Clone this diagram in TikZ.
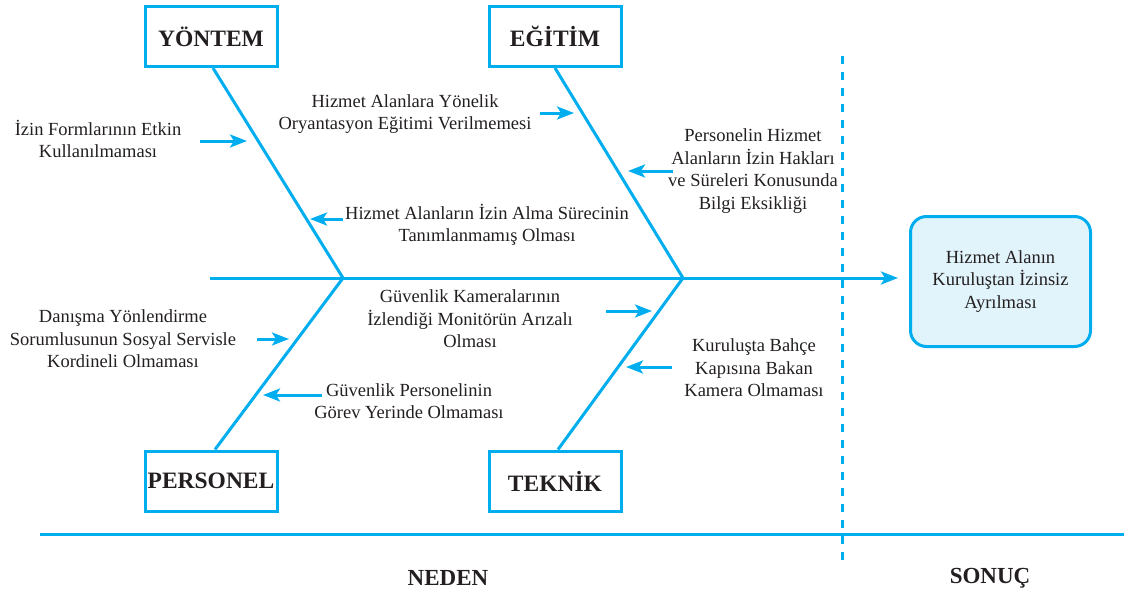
\documentclass[tikz,border=0pt]{standalone}
\usepackage{fontspec}
\setmainfont{Liberation Serif}
\usetikzlibrary{arrows.meta}
\definecolor{fbcyan}{HTML}{00AEEF}
\definecolor{fbfill}{HTML}{E1F3FB}
\definecolor{fbtext}{HTML}{231F20}
\begin{document}
\begin{tikzpicture}[x=1pt,y=-1pt,
  bone/.style={draw=fbcyan,line width=3pt},
  catbox/.style={draw=fbcyan,line width=3pt,minimum width=132pt,minimum height=60pt,
    inner sep=0pt,text=fbtext,font=\fontsize{23.5}{28}\selectfont\bfseries},
  cause/.style={align=center,inner sep=0pt,text=fbtext,font=\fontsize{18.5}{22.5}\selectfont},
  tip/.style={-{Stealth[length=17pt,width=13pt,inset=4pt]}},
  causearrow/.style={draw=fbcyan,line width=3pt,tip},
  resultbox/.style={draw=fbcyan,line width=3pt,fill=fbfill,rounded corners=16pt,
    minimum width=180pt,minimum height=130pt,align=center,inner sep=0pt,text=fbtext,
    font=\fontsize{18.5}{22.5}\selectfont},
  footlabel/.style={inner sep=0pt,text=fbtext,font=\fontsize{23}{28}\selectfont\bfseries}]
\useasboundingbox (0,0) rectangle (1124,597);

% category boxes
\node[catbox] (yontem)   at (211,36.5) {YÖNTEM};
\node[catbox] (egitim)   at (555,36.5) {EĞİTİM};
\node[catbox] (personel) at (211,481)  {PERSONEL};
\node[catbox] (teknik)   at (555,481)  {TEKNİK};

% effect box
\node[resultbox] (result) at (1000.5,281.5) {Hizmet Alanın\\Kuruluştan İzinsiz\\Ayrılması};

% spine and bones
\coordinate (spinestart) at (210,278);
\coordinate (j1) at (343,278);
\coordinate (j2) at (683,278);
\draw[bone,tip,shorten >=11pt] (spinestart) -- (result.west |- spinestart);
\draw[bone] ([xshift=2pt]yontem.south) -- (j1) -- ([xshift=4pt]personel.north);
\draw[bone] (egitim.south) -- (j2) -- ([xshift=3pt]teknik.north);

% cause / effect separators
\coordinate (sepTop) at (842,56);
\coordinate (sepBot) at (842,560);
\draw[bone,dash pattern=on 8pt off 8pt] (sepTop) -- (sepBot);
\coordinate (baseL) at (40,534);
\coordinate (baseR) at (1124,534);
\draw[bone] (baseL) -- (baseR);

\node[footlabel] (neden) at (448,578) {NEDEN};
\node[footlabel] (sonuc) at (990,578) {SONUÇ};

% causes
\node[cause] (c1) at (98,139)  {İzin Formlarının Etkin\\Kullanılmaması};
\node[cause] (c2) at (405,114) {Hizmet Alanlara Yönelik\\Oryantasyon Eğitimi Verilmemesi};
\node[cause] (c3) at (487,225) {Hizmet Alanların İzin Alma Sürecinin\\Tanımlanmamış Olması};
\node[cause] (c4) at (753,171) {Personelin Hizmet\\Alanların İzin Hakları\\ve Süreleri Konusunda\\Bilgi Eksikliği};
\node[cause] (c5) at (470,319) {Güvenlik Kameralarının\\İzlendiği Monitörün Arızalı\\Olması};
\node[cause] (c6) at (123,339) {Danışma Yönlendirme\\Sorumlusunun Sosyal Servisle\\Kordineli Olmaması};
\node[cause] (c7) at (409,401) {Güvenlik Personelinin\\Görev Yerinde Olmaması};
\node[cause] (c8) at (754,368) {Kuruluşta Bahçe\\Kapısına Bakan\\Kamera Olmaması};

% cause arrows
\coordinate (a1s) at (200,141); \coordinate (a1e) at (247,141);
\coordinate (a2s) at (540,113); \coordinate (a2e) at (574,113);
\coordinate (a3s) at (343,219); \coordinate (a3e) at (310,219);
\coordinate (a4s) at (673,171); \coordinate (a4e) at (628,171);
\coordinate (a5s) at (606,311); \coordinate (a5e) at (652,311);
\coordinate (a6s) at (257,339); \coordinate (a6e) at (289,339);
\coordinate (a7s) at (322,395); \coordinate (a7e) at (263,395);
\coordinate (a8s) at (672,367); \coordinate (a8e) at (626,367);
\foreach \i in {1,...,8}{\draw[causearrow] (a\i s) -- (a\i e);}
\end{tikzpicture}
\end{document}
